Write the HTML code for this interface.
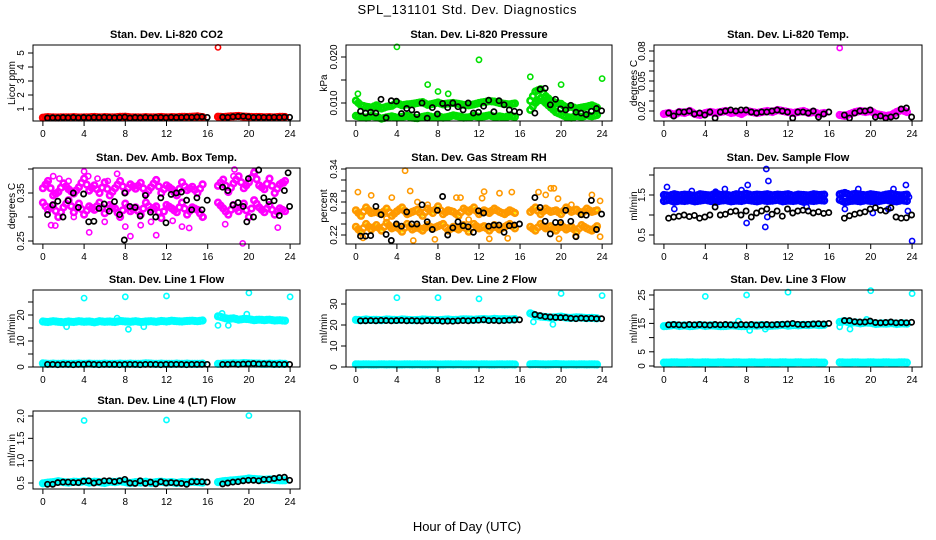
<!DOCTYPE html>
<html><head><meta charset="utf-8">
<style>
body{margin:0;background:#fff;}
svg{display:block;font-family:"Liberation Sans",sans-serif;}
</style></head>
<body>
<svg id="chart" width="936" height="540" viewBox="0 0 936 540" xmlns="http://www.w3.org/2000/svg">
<rect width="936" height="540" fill="#fff"/>
<text x="467" y="14" font-size="13" text-anchor="middle" textLength="219">SPL_131101  Std. Dev. Diagnostics</text>
<text x="467" y="531" font-size="13" text-anchor="middle">Hour of Day (UTC)</text>
<g id="panels"></g>
</svg>
<script>
// shared hour values (hours of day where samples occur)
const hours = [0,0.5,1,1.5,2,2.5,3,3.5,4,4.5,5,5.5,6,6.5,7,7.5,8,8.5,9,9.5,10,10.5,11,11.5,12,12.5,13,13.5,14,14.5,15,15.5,17,17.5,18,18.5,19,19.5,20,20.5,21,21.5,22,22.5,23,23.5];
const xTicks = [0,4,8,12,16,20,24];

// Panel 1: CO2
const co2Color = [0.38,0.42,0.40,0.39,0.41,0.40,0.42,0.39,0.40,0.41,0.43,0.40,0.42,0.41,0.40,0.44,0.45,0.40,0.41,0.39,0.42,0.40,0.41,0.43,0.40,0.42,0.41,0.44,0.43,0.45,0.47,0.42,0.45,0.42,0.46,0.48,0.50,0.46,0.44,0.42,0.43,0.41,0.42,0.40,0.44,0.43];
const co2Black = [0.36,0.38,0.37,0.39,0.38,0.40,0.37,0.39,0.38,0.40,0.39,0.41,0.40,0.38,0.40,0.42,0.36,0.39,0.38,0.40,0.37,0.39,0.40,0.38,0.41,0.39,0.40,0.42,0.41,0.43,0.44,0.40,0.42,0.40,0.45,0.47,0.48,0.44,0.40,0.41,0.40,0.39,0.41,0.40,0.42,0.41];
const co2Out = [[17,5.4]];
// Panel 2: pressure
const presColor = [0.0105,0.0095,0.0092,0.0090,0.0095,0.0088,0.0092,0.0094,0.0100,0.0095,0.0097,0.0098,0.0100,0.0102,0.0096,0.0098,0.0101,0.0097,0.0099,0.0100,0.0098,0.0096,0.0095,0.0097,0.0100,0.0102,0.0104,0.0103,0.0100,0.0098,0.0097,0.0099,0.0105,0.0125,0.0130,0.0115,0.0105,0.0100,0.0098,0.0090,0.0092,0.0088,0.0090,0.0092,0.0095,0.0090];
const presColor2 = [0.0072,0.0070,0.0068,0.0072,0.0070,0.0066,0.0069,0.0071,0.0068,0.0070,0.0072,0.0068,0.0067,0.0070,0.0072,0.0069,0.0071,0.0068,0.0070,0.0073,0.0071,0.0068,0.0069,0.0072,0.0070,0.0071,0.0073,0.0070,0.0071,0.0069,0.0072,0.0070,0.0085,0.0100,0.0110,0.0100,0.0090,0.0080,0.0075,0.0070,0.0068,0.0072,0.0070,0.0073,0.0071,0.0074];
const presBlack = [0.0082,0.0078,0.0080,0.0078,0.0108,0.0068,0.0105,0.0104,0.0077,0.0088,0.0085,0.0075,0.0100,0.0067,0.0090,0.0076,0.0099,0.0090,0.0100,0.0092,0.0085,0.0100,0.0078,0.0080,0.0093,0.0106,0.0081,0.0105,0.0096,0.0085,0.0082,0.0080,0.0078,0.0130,0.0132,0.0096,0.0108,0.0087,0.0085,0.0095,0.0080,0.0078,0.0075,0.0082,0.0088,0.0083];
const presOut = [[4,0.0222],[12,0.0194],[17,0.0157],[7,0.0140],[8,0.0125],[20,0.0140],[24,0.0153],[0.2,0.0120],[9,0.0120]];
// Panel 3: Li-820 temp
const tempColor = [0.017,0.018,0.016,0.019,0.018,0.020,0.017,0.016,0.018,0.019,0.018,0.019,0.020,0.018,0.019,0.017,0.020,0.019,0.018,0.019,0.020,0.019,0.021,0.020,0.019,0.018,0.019,0.020,0.018,0.019,0.017,0.018,0.016,0.015,0.017,0.019,0.020,0.019,0.020,0.017,0.016,0.015,0.016,0.019,0.021,0.019];
const tempBlack = [0.018,0.015,0.019,0.019,0.020,0.017,0.018,0.016,0.019,0.013,0.019,0.020,0.021,0.020,0.021,0.021,0.019,0.018,0.019,0.019,0.020,0.021,0.020,0.019,0.013,0.019,0.019,0.018,0.020,0.014,0.017,0.019,0.016,0.013,0.018,0.020,0.020,0.021,0.014,0.015,0.013,0.014,0.015,0.022,0.023,0.014];
const tempOut = [[17,0.083]];
// Panel 4: amb box temp
const ambColor = [0.360,0.375,0.345,0.352,0.370,0.358,0.349,0.362,0.380,0.355,0.366,0.350,0.372,0.345,0.360,0.375,0.352,0.368,0.359,0.371,0.348,0.362,0.377,0.350,0.366,0.358,0.345,0.372,0.356,0.363,0.350,0.368,0.365,0.378,0.352,0.370,0.385,0.360,0.372,0.392,0.366,0.358,0.380,0.350,0.368,0.375];
const ambColor2 = [0.330,0.315,0.325,0.300,0.320,0.335,0.310,0.328,0.305,0.322,0.315,0.330,0.308,0.325,0.318,0.300,0.328,0.312,0.320,0.305,0.330,0.315,0.322,0.298,0.325,0.318,0.310,0.330,0.305,0.320,0.315,0.300,0.330,0.318,0.305,0.325,0.312,0.328,0.300,0.335,0.320,0.310,0.325,0.305,0.318,0.312];
const ambBlack = [0.305,0.325,0.333,0.300,0.334,0.350,0.320,0.348,0.290,0.291,0.318,0.327,0.312,0.332,0.305,0.350,0.322,0.320,0.302,0.345,0.310,0.300,0.340,0.288,0.347,0.350,0.352,0.335,0.315,0.340,0.315,0.335,0.362,0.355,0.325,0.330,0.322,0.380,0.300,0.405,0.340,0.332,0.334,0.303,0.355,0.322];
const ambOut = [[0.4,0.370],[1,0.385],[1.6,0.380],[2.5,0.375],[4,0.395],[4.4,0.385],[5.3,0.380],[6.3,0.375],[7.2,0.390],[0.8,0.283],[1.2,0.282],[4.5,0.268],[8,0.280],[8.5,0.260],[9.5,0.283],[11,0.262],[12.6,0.292],[13.5,0.280],[14.2,0.277],[18.5,0.385],[19.4,0.245],[20.5,0.395],[22.8,0.278],[17.7,0.285],[23.4,0.370],[18.6,0.399],[15.6,0.300],[10.5,0.290],[3,0.300],[6,0.290]];
const ambBlackOut = [[7.9,0.252],[19.8,0.290],[23.8,0.392]];
// Panel 5: gas stream RH
const rhColor = [0.265,0.255,0.270,0.260,0.262,0.258,0.268,0.255,0.263,0.270,0.258,0.262,0.266,0.255,0.268,0.260,0.272,0.258,0.265,0.262,0.255,0.268,0.262,0.270,0.258,0.265,0.260,0.268,0.262,0.258,0.265,0.260,0.262,0.270,0.258,0.268,0.262,0.265,0.258,0.270,0.262,0.266,0.258,0.268,0.262,0.265];
const rhColor2 = [0.235,0.225,0.240,0.230,0.238,0.228,0.242,0.232,0.236,0.226,0.240,0.230,0.235,0.228,0.238,0.232,0.236,0.240,0.228,0.235,0.230,0.238,0.226,0.240,0.232,0.236,0.228,0.238,0.230,0.235,0.240,0.232,0.235,0.228,0.240,0.232,0.236,0.228,0.238,0.230,0.235,0.226,0.238,0.232,0.228,0.236];
const rhBlack = [0.218,0.218,0.219,0.272,0.257,0.221,0.210,0.240,0.236,0.262,0.240,0.240,0.275,0.244,0.230,0.265,0.290,0.220,0.233,0.244,0.237,0.235,0.225,0.264,0.260,0.236,0.238,0.238,0.225,0.237,0.238,0.240,0.288,0.270,0.245,0.222,0.243,0.243,0.265,0.245,0.217,0.257,0.256,0.283,0.230,0.258];
const rhOut = [[0.2,0.298],[1.5,0.292],[3.5,0.288],[4.8,0.337],[5.3,0.300],[6,0.280],[9.8,0.288],[10.2,0.288],[12.3,0.287],[12.5,0.299],[14,0.296],[15.2,0.298],[17.8,0.298],[18.5,0.293],[19,0.305],[19.3,0.305],[19.7,0.286],[23,0.293],[23.8,0.282],[0.7,0.215],[5.6,0.210],[7.7,0.212],[13,0.213],[14.8,0.214],[19.8,0.213],[21.4,0.218],[23.8,0.217],[3,0.250],[7,0.275],[11,0.248],[21,0.275]];
// Panel 6: sample flow
const flowColor = [1.50,1.48,1.52,1.49,1.51,1.50,1.47,1.52,1.50,1.49,1.53,1.50,1.51,1.48,1.52,1.50,1.53,1.49,1.51,1.50,1.52,1.49,1.51,1.50,1.52,1.48,1.51,1.50,1.49,1.52,1.50,1.51,1.52,1.55,1.50,1.53,1.51,1.49,1.52,1.50,1.48,1.51,1.53,1.50,1.49,1.51];
const flowColor2 = [1.35,1.38,1.33,1.36,1.35,1.37,1.34,1.36,1.38,1.35,1.33,1.36,1.37,1.34,1.36,1.35,1.38,1.36,1.34,1.37,1.35,1.36,1.38,1.34,1.36,1.35,1.37,1.33,1.36,1.35,1.37,1.36,1.38,1.32,1.35,1.36,1.34,1.37,1.35,1.33,1.36,1.38,1.35,1.34,1.37,1.35];
const flowBlack = [0.92,0.95,0.97,1.00,0.96,0.99,0.92,0.95,1.00,1.20,1.00,1.02,1.08,1.10,1.00,1.10,0.95,1.05,1.10,1.15,1.02,1.10,0.97,1.15,1.05,1.10,1.12,1.10,1.05,1.08,1.04,1.06,0.92,0.98,1.02,1.05,1.08,1.15,1.18,1.12,1.10,1.18,0.95,0.92,0.93,1.00];
const flowOut = [[0.3,1.70],[1,1.15],[2.7,1.60],[5,1.58],[5.9,1.65],[7.5,1.62],[8.1,1.75],[8,0.80],[9.8,0.70],[9.9,2.15],[10.1,1.85],[10,0.95],[13.8,1.20],[17.5,1.15],[18.8,1.65],[20.2,1.05],[21.7,1.15],[22.2,1.65],[23.4,1.75],[23.7,1.45],[24,0.35],[23.6,1.10]];
// Panel 7: line 1 flow
const l1Color = [17.5,17.3,17.6,17.4,17.2,17.5,17.3,17.6,17.4,17.5,17.2,17.6,17.4,17.5,17.3,17.7,17.5,17.4,17.6,17.3,17.5,17.6,17.4,17.7,17.5,17.8,17.6,17.5,17.7,17.8,17.6,17.9,19.5,19.0,18.5,18.7,18.2,18.5,18.4,18.0,18.2,18.0,18.2,17.9,18.0,17.8];
const l1Color2 = [1.4,1.2,1.3,1.2,1.3,1.2,1.2,1.3,1.2,1.3,1.2,1.2,1.3,1.2,1.2,1.3,1.2,1.3,1.2,1.2,1.4,1.3,1.2,1.3,1.2,1.2,1.3,1.2,1.3,1.2,1.2,1.3,1.2,1.3,1.3,1.4,1.3,1.5,1.4,1.3,1.3,1.2,1.3,1.2,1.3,1.2];
const l1Black = [1.0,1.0,0.9,1.0,1.0,0.9,1.0,1.0,1.1,1.0,0.9,1.0,1.0,1.0,0.9,1.0,1.0,1.0,0.9,1.0,1.0,1.0,0.9,1.0,1.0,1.0,1.0,0.9,1.0,1.0,1.0,1.0,1.0,1.0,1.1,1.0,1.1,1.2,1.3,1.1,1.2,1.1,1.0,1.0,1.0,1.0];
const l1Out = [[4,26.5],[8,27],[12,27.3],[20,28.5],[24,27],[2.3,15.5],[8.3,14.5],[9.8,15.5],[17,16],[18,16],[7.2,18.8],[19.8,20.3],[17.4,20.6]];
// Panel 8: line 2 flow
const l2Color = [22.5,22.3,22.6,22.4,22.5,22.3,22.6,22.5,22.4,22.6,22.5,22.3,22.4,22.6,22.5,22.4,22.3,22.5,22.6,22.4,22.5,22.7,22.6,22.5,22.7,22.8,22.6,22.9,22.7,22.8,22.6,22.8,25.5,24.5,24.0,23.8,23.5,23.7,24.0,23.5,23.4,23.6,23.5,23.3,23.4,23.2];
const l2Color2 = [1.3,1.2,1.3,1.2,1.2,1.3,1.2,1.3,1.2,1.2,1.3,1.2,1.3,1.2,1.2,1.3,1.2,1.2,1.3,1.2,1.3,1.2,1.2,1.3,1.2,1.3,1.2,1.2,1.3,1.2,1.3,1.2,1.3,1.4,1.3,1.2,1.3,1.4,1.3,1.2,1.3,1.2,1.3,1.2,1.3,1.2];
const l2Black = [22.0,22.0,22.1,22.0,22.2,22.1,22.0,22.1,22.2,22.0,22.1,22.0,21.9,22.1,22.0,22.1,21.8,21.9,21.8,22.0,22.1,22.0,22.2,22.3,22.5,22.1,22.2,22.0,22.1,22.3,22.4,22.5,25.0,24.5,24.0,23.8,23.6,23.5,23.5,23.2,23.0,23.3,23.1,23.2,23.0,23.0];
const l2Out = [[4,33],[8,33],[12,32.5],[20,35],[24,34],[17.3,21.5],[19.2,20.3]];
// Panel 9: line 3 flow
const l3Color = [14.0,14.2,14.4,14.1,14.3,14.0,14.2,14.4,14.1,14.3,14.2,14.0,14.1,14.3,14.2,14.0,14.1,14.3,14.2,14.4,14.1,14.2,14.3,14.5,14.2,14.4,14.3,14.5,14.4,14.6,14.4,14.5,15.5,15.8,15.2,15.4,15.0,15.3,15.2,14.8,15.0,14.9,15.1,14.8,15.0,14.9];
const l3Color2 = [1.2,1.2,1.3,1.2,1.2,1.3,1.2,1.2,1.3,1.2,1.2,1.3,1.2,1.2,1.3,1.2,1.2,1.3,1.2,1.2,1.3,1.2,1.2,1.3,1.2,1.2,1.3,1.2,1.2,1.3,1.2,1.2,1.3,1.2,1.2,1.3,1.2,1.2,1.3,1.2,1.2,1.3,1.2,1.2,1.3,1.2];
const l3Black = [14.5,14.6,14.5,14.4,14.6,14.5,14.6,14.5,14.4,14.6,14.5,14.6,14.5,14.4,14.6,14.5,14.6,14.4,14.5,14.6,14.5,14.6,14.7,14.8,15.0,14.7,14.6,14.7,14.8,14.9,14.8,15.0,16.0,16.0,15.6,15.5,15.5,15.8,15.3,15.2,15.3,15.5,15.2,15.3,15.2,15.4];
const l3Out = [[4,24.5],[8,25],[12,26],[20,26.5],[24,25.5],[8.3,12.5],[9.8,13],[18,13],[17,13.8],[7.2,15.8],[19.6,16.4]];
// Panel 10: line 4 flow
const l4Color = [0.49,0.51,0.52,0.54,0.52,0.51,0.53,0.52,0.54,0.51,0.53,0.52,0.50,0.53,0.52,0.54,0.52,0.50,0.52,0.51,0.53,0.50,0.52,0.53,0.51,0.52,0.50,0.52,0.51,0.53,0.52,0.51,0.52,0.54,0.55,0.56,0.57,0.58,0.60,0.59,0.58,0.57,0.58,0.57,0.56,0.56];
const l4Black = [0.47,0.47,0.51,0.52,0.52,0.51,0.51,0.54,0.55,0.50,0.52,0.55,0.55,0.53,0.55,0.58,0.50,0.49,0.55,0.49,0.52,0.48,0.53,0.50,0.51,0.50,0.49,0.47,0.53,0.53,0.53,0.52,0.48,0.50,0.52,0.53,0.55,0.56,0.56,0.55,0.58,0.58,0.60,0.62,0.63,0.56];
const l4Out = [[4,1.9],[12,1.91],[20,2.01]];

// y tick values and labels
const ticks1 = [1,2,3,4,5], tlab1 = ["1","2","3","4","5"];
const ticks2 = [0.010,0.015,0.020], tlab2 = ["0.010","","0.020"];
const ticks3 = [0.02,0.03,0.04,0.05,0.06,0.07,0.08], tlab3 = ["0.02","","","0.05","","","0.08"];
const ticks4 = [0.25,0.30,0.35,0.40], tlab4 = ["0.25","","0.35",""];
const ticks5 = [0.22,0.24,0.26,0.28,0.30,0.32,0.34], tlab5 = ["0.22","","","0.28","","","0.34"];
const ticks6 = [0.5,1.0,1.5,2.0], tlab6 = ["0.5","","1.5",""];
const ticks7 = [0,5,10,15,20,25], tlab7 = ["0","","10","","20",""];
const ticks8 = [0,10,20,30], tlab8 = ["0","10","20","30"];
const ticks9 = [0,5,10,15,20,25], tlab9 = ["0","5","","15","","25"];
const ticks10 = [0.5,1.0,1.5,2.0], tlab10 = ["0.5","1.0","1.5","2.0"];

const NS = "http://www.w3.org/2000/svg";
const root = document.getElementById('panels');
function mk(tag, attrs, parent){const e=document.createElementNS(NS,tag);for(const k in attrs)e.setAttribute(k,attrs[k]);parent.appendChild(e);return e;}

const cols = [[33,300],[346,612],[654,922]];
const rows = [[45,121],[168,244],[290,367],[411,489]];
const ylabX = [11,323,633];

const panels = [
 {title:"Stan. Dev. Li-820 CO2", slug:"co2", c:0,r:0, ylab:"Licor ppm", cal:[1,109,5,53], ticks:ticks1, tlab:tlab1, col:"#ff0000", series:[co2Color], black:co2Black, out:co2Out},
 {title:"Stan. Dev. Li-820 Pressure", slug:"pressure", c:1,r:0, ylab:"kPa", cal:[0.010,103,0.020,57], ticks:ticks2, tlab:tlab2, col:"#00e000", series:[presColor,presColor2], black:presBlack, out:presOut},
 {title:"Stan. Dev. Li-820 Temp.", slug:"li820-temp", c:2,r:0, ylab:"degrees C", cal:[0.02,111,0.08,51], ticks:ticks3, tlab:tlab3, col:"#ff00ff", series:[tempColor], black:tempBlack, out:tempOut},
 {title:"Stan. Dev. Amb. Box Temp.", slug:"amb-temp", c:0,r:1, ylab:"degrees C", cal:[0.35,193,0.25,241], ticks:ticks4, tlab:tlab4, col:"#ff00ff", series:[ambColor,ambColor2], black:ambBlack, out:ambOut, bout:ambBlackOut},
 {title:"Stan. Dev. Gas Stream RH", slug:"rh", c:1,r:1, ylab:"percent", cal:[0.34,169,0.22,235], ticks:ticks5, tlab:tlab5, col:"#ff9900", col2:"#ffee00", series:[rhColor,rhColor2], black:rhBlack, out:rhOut},
 {title:"Stan. Dev. Sample Flow", slug:"sample-flow", c:2,r:1, ylab:"ml/min", cal:[1.5,195,0.5,235], ticks:ticks6, tlab:tlab6, col:"#0000ff", series:[flowColor,flowColor2], black:flowBlack, out:flowOut},
 {title:"Stan. Dev. Line 1 Flow", slug:"line1", c:0,r:2, ylab:"ml/min", cal:[0,367,20,315], ticks:ticks7, tlab:tlab7, col:"#00ffff", series:[l1Color,l1Color2], black:l1Black, out:l1Out},
 {title:"Stan. Dev. Line 2 Flow", slug:"line2", c:1,r:2, ylab:"ml/min", cal:[0,367,30,304], ticks:ticks8, tlab:tlab8, col:"#00ffff", series:[l2Color,l2Color2], black:l2Black, out:l2Out},
 {title:"Stan. Dev. Line 3 Flow", slug:"line3", c:2,r:2, ylab:"ml/min", cal:[0,366,25,295], ticks:ticks9, tlab:tlab9, col:"#00ffff", series:[l3Color,l3Color2], black:l3Black, out:l3Out},
 {title:"Stan. Dev. Line 4 (LT) Flow", slug:"line4", c:0,r:3, ylab:"ml/m in", cal:[0.5,483,2.0,416], ticks:ticks10, tlab:tlab10, col:"#00ffff", series:[l4Color], black:l4Black, out:l4Out}
];

panels.forEach(p=>{
  const [L,R]=cols[p.c], [T,B]=rows[p.r];
  const g=mk('g',{},root);
  
  
  const xs = h => L + (R-L)*(h+0.96)/25.92;
  const [v1,y1,v2,y2]=p.cal;
  const ys = v => y1 + (v-v1)*(y2-y1)/(v2-v1);
  const cx=(L+R)/2;
  const t=mk('text',{x:cx,y:T-7,'font-size':11,'font-weight':'bold','text-anchor':'middle'},g);
  t.textContent=p.title;
  
  
  const yl=mk('text',{x:0,y:0,'font-size':10,'text-anchor':'middle',transform:`translate(${ylabX[p.c]+4},${(T+B)/2}) rotate(-90)`},g);
  yl.textContent=p.ylab;
  
  
  // points
  const pts=mk('g',{fill:'none'},g);
  
  
  const clip=(y)=>Math.max(T+2,Math.min(B-2,y));
  p.series.forEach((s,si)=>{
    s.forEach((v,i)=>{
      const col = (p.col2 && si===1)?p.col:p.col;
      const c=mk('circle',{cx:xs(hours[i]).toFixed(1),cy:clip(ys(v)).toFixed(1),r:2.8,stroke:col,'stroke-width':2.6},pts);
      
      
      if(p.col2){const d=mk('circle',{cx:xs(hours[i]).toFixed(1),cy:clip(ys(v)).toFixed(1),r:1.2,fill:p.col2},pts);
        
        }
      // also half-step fill for dense band
      if(i+1<s.length && hours[i+1]-hours[i]<=0.5){
        const c2=mk('circle',{cx:xs(hours[i]+0.25).toFixed(1),cy:clip(ys((v+s[i+1])/2)).toFixed(1),r:2.8,stroke:col,'stroke-width':2.6},pts);
        
        
      }
    });
  });
  p.out.forEach(([h,v])=>{
    const c=mk('circle',{cx:xs(h).toFixed(1),cy:ys(v).toFixed(1),r:2.6,stroke:p.col,'stroke-width':1.6},pts);
    
    
  });
  p.black.forEach((v,i)=>{
    const h = hours[i]+0.45;
    const c=mk('circle',{cx:xs(h).toFixed(1),cy:clip(ys(v)).toFixed(1),r:2.6,stroke:'#000','stroke-width':1.7},pts);
    
    
  });
  (p.bout||[]).forEach(([h,v])=>{
    const c=mk('circle',{cx:xs(h).toFixed(1),cy:ys(v).toFixed(1),r:2.6,stroke:'#000','stroke-width':1.7},pts);
    
    
  });
  // box
  const box=mk('rect',{x:L,y:T,width:R-L,height:B-T,fill:'none',stroke:'#000','stroke-width':1},g);
  
  
  // x ticks
  xTicks.forEach(h=>{
    const x=xs(h);
    mk('line',{x1:x,x2:x,y1:B,y2:B+5,stroke:'#000'},g);
    const tl=mk('text',{x:x,y:B+16,'font-size':10,'text-anchor':'middle'},g);
    tl.textContent=String(h);
    
    
  });
  // y ticks
  p.ticks.forEach((v,i)=>{
    const y=ys(v);
    mk('line',{x1:L-5,x2:L,y1:y,y2:y,stroke:'#000'},g);
    if(p.tlab[i]){
      const tl=mk('text',{x:0,y:0,'font-size':10,'text-anchor':'middle',transform:`translate(${L-9},${y}) rotate(-90)`},g);
      tl.textContent=p.tlab[i];
      
      
    }
  });
});
</script>
</body></html>
